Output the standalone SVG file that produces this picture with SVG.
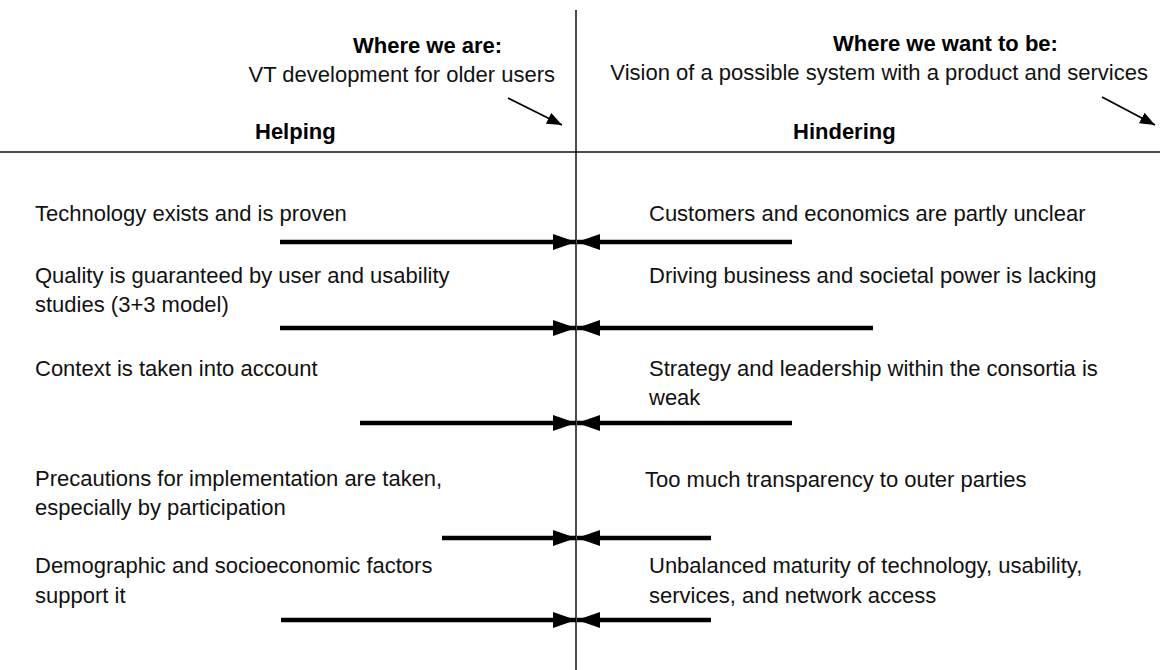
<svg xmlns="http://www.w3.org/2000/svg" width="1160" height="670" viewBox="0 0 1160 670">
  <defs>
    <style>
      .t { font-family: "Liberation Sans", Arial, sans-serif; font-size: 22px; fill: #111; }
      .b { font-family: "Liberation Sans", Arial, sans-serif; font-size: 22px; font-weight: bold; fill: #000; }
      .axis { stroke: #111; stroke-width: 1.5; fill: none; }
      .force { stroke: #000; stroke-width: 4.5; fill: none; }
      .thin { stroke: #000; stroke-width: 1.8; fill: none; }
    </style>
    <marker id="head" markerUnits="userSpaceOnUse" markerWidth="24" markerHeight="16" viewBox="0 0 24 16" refX="23" refY="8" orient="auto">
      <path d="M0,0 L23,8 L0,16 Z" fill="#000"/>
    </marker>
    <marker id="small" markerUnits="userSpaceOnUse" markerWidth="16" markerHeight="12" viewBox="0 0 16 12" refX="15" refY="6" orient="auto">
      <path d="M0,0 L15,6 L0,12 Z" fill="#000"/>
    </marker>
  </defs>

  <g id="axes">
    <line class="axis" x1="576" y1="10" x2="576" y2="670"/>
    <line class="axis" x1="0" y1="152" x2="1160" y2="152"/>
  </g>

  <g id="header-left">
    <text class="b" x="353" y="53">Where we are:</text>
    <text class="t" x="555" y="82" text-anchor="end">VT development for older users</text>
    <text class="b" x="255" y="139">Helping</text>
  </g>

  <g id="header-right">
    <text class="b" x="833" y="51">Where we want to be:</text>
    <text class="t" x="1148" y="80" text-anchor="end">Vision of a possible system with a product and services</text>
    <text class="b" x="793" y="139">Hindering</text>
  </g>

  <g id="help-1"><text class="t" x="35" y="221">Technology exists and is proven</text></g>
  <g id="help-2"><text class="t" x="35" y="283">Quality is guaranteed by user and usability</text><text class="t" x="35" y="312">studies (3+3 model)</text></g>
  <g id="help-3"><text class="t" x="35" y="376">Context is taken into account</text></g>
  <g id="help-4"><text class="t" x="35" y="486">Precautions for implementation are taken,</text><text class="t" x="35" y="515">especially by participation</text></g>
  <g id="help-5"><text class="t" x="35" y="573">Demographic and socioeconomic factors</text><text class="t" x="35" y="603">support it</text></g>

  <g id="hinder-1"><text class="t" x="649" y="221">Customers and economics are partly unclear</text></g>
  <g id="hinder-2"><text class="t" x="649" y="283">Driving business and societal power is lacking</text></g>
  <g id="hinder-3"><text class="t" x="649" y="376">Strategy and leadership within the consortia is</text><text class="t" x="649" y="405">weak</text></g>
  <g id="hinder-4"><text class="t" x="645" y="487">Too much transparency to outer parties</text></g>
  <g id="hinder-5"><text class="t" x="649" y="573">Unbalanced maturity of technology, usability,</text><text class="t" x="649" y="603">services, and network access</text></g>

  <g id="connectors">
    <line class="thin" x1="508" y1="98" x2="562" y2="125" marker-end="url(#small)"/>
    <line class="thin" x1="1102" y1="97" x2="1155" y2="125" marker-end="url(#small)"/>

    <line class="force" x1="280" y1="242" x2="576" y2="242" marker-end="url(#head)"/>
    <line class="force" x1="792" y1="242" x2="577" y2="242" marker-end="url(#head)"/>
    <line class="force" x1="280" y1="328" x2="576" y2="328" marker-end="url(#head)"/>
    <line class="force" x1="873" y1="328" x2="577" y2="328" marker-end="url(#head)"/>
    <line class="force" x1="360" y1="423" x2="576" y2="423" marker-end="url(#head)"/>
    <line class="force" x1="792" y1="423" x2="577" y2="423" marker-end="url(#head)"/>
    <line class="force" x1="442" y1="538" x2="576" y2="538" marker-end="url(#head)"/>
    <line class="force" x1="711" y1="538" x2="577" y2="538" marker-end="url(#head)"/>
    <line class="force" x1="281" y1="620" x2="576" y2="620" marker-end="url(#head)"/>
    <line class="force" x1="711" y1="620" x2="577" y2="620" marker-end="url(#head)"/>
  </g>
</svg>
